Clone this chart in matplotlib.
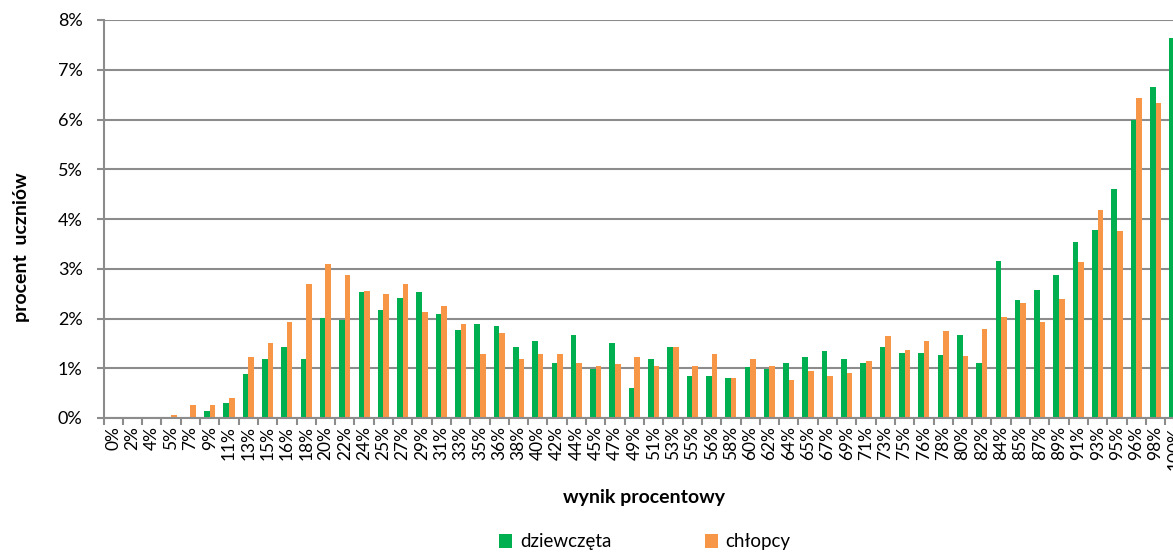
import numpy as np
import matplotlib
matplotlib.use("Agg")
import matplotlib.pyplot as plt
from matplotlib.ticker import PercentFormatter

# wynik procentowy (kategorie)
wyniki = ["0%", "2%", "4%", "5%", "7%", "9%", "11%", "13%", "15%", "16%",
          "18%", "20%", "22%", "24%", "25%", "27%", "29%", "31%", "33%", "35%",
          "36%", "38%", "40%", "42%", "44%", "45%", "47%", "49%", "51%", "53%",
          "55%", "56%", "58%", "60%", "62%", "64%", "65%", "67%", "69%", "71%",
          "73%", "75%", "76%", "78%", "80%", "82%", "84%", "85%", "87%", "89%",
          "91%", "93%", "95%", "96%", "98%", "100%"]

dziewczeta = [0.00, 0.00, 0.00, 0.00, 0.00, 0.15, 0.31, 0.89, 1.18, 1.43,
              1.18, 2.01, 1.97, 2.54, 2.17, 2.42, 2.54, 2.09, 1.76, 1.88,
              1.84, 1.43, 1.55, 1.10, 1.67, 0.98, 1.51, 0.61, 1.19, 1.43,
              0.85, 0.85, 0.81, 1.02, 0.98, 1.10, 1.22, 1.35, 1.19, 1.10,
              1.43, 1.31, 1.31, 1.26, 1.67, 1.10, 3.15, 2.38, 2.58, 2.87,
              3.53, 3.78, 4.60, 6.00, 6.65, 7.64]

chlopcy = [0.03, 0.03, 0.03, 0.06, 0.27, 0.27, 0.41, 1.22, 1.51, 1.92,
           2.70, 3.09, 2.88, 2.56, 2.50, 2.70, 2.13, 2.25, 1.89, 1.29,
           1.71, 1.18, 1.29, 1.29, 1.11, 1.05, 1.09, 1.23, 1.05, 1.43,
           1.05, 1.29, 0.80, 1.19, 1.05, 0.76, 0.94, 0.84, 0.91, 1.15,
           1.64, 1.37, 1.54, 1.75, 1.25, 1.78, 2.03, 2.32, 1.92, 2.39,
           3.13, 4.18, 3.76, 6.43, 6.33, 7.40]

plt.rcParams['font.family'] = ['Lato', 'DejaVu Sans']

fig = plt.figure(figsize=(11.73, 5.54), dpi=100)
# os wykresu wychodzi poza prawa krawedz obrazka, jak w oryginale
ax = fig.add_axes([103.5 / 1173, 1 - 418 / 554, 1081 / 1173, 398 / 554])

x = np.arange(len(wyniki))
w = 0.29
ax.bar(x - w / 2, dziewczeta, width=w, color="#00B050", label="dziewczęta", zorder=3)
ax.bar(x + w / 2, chlopcy, width=w, color="#F79646", label="chłopcy", zorder=3)

ax.set_xlim(-0.5, len(wyniki) - 0.5)
ax.set_ylim(0, 8)
ax.yaxis.set_major_formatter(PercentFormatter(decimals=0))
ax.set_yticks(range(0, 9))

grid_col = "#8c8c8c"
ax.grid(axis="y", color=grid_col, linewidth=1.5, zorder=0)
for s in ["top", "right"]:
    ax.spines[s].set_visible(False)
for s in ["left", "bottom"]:
    ax.spines[s].set_color(grid_col)
    ax.spines[s].set_linewidth(1.5)
    ax.spines[s].set_zorder(4)

ax.set_xticks(x)
ax.set_xticklabels(wyniki, rotation=90, fontsize=12.5)
ax.tick_params(axis="x", which="major", length=0, pad=6)
ax.set_xticks(np.arange(-0.5, len(wyniki)), minor=True)
ax.tick_params(axis="x", which="minor", length=5, width=1.5, color=grid_col)
ax.tick_params(axis="y", length=5, width=1.5, color=grid_col, labelsize=13, pad=10)

fig.text(644 / 1173, 1 - 497 / 554, "wynik procentowy", ha="center", va="center",
         fontsize=14, fontweight="bold")
fig.text(22 / 1173, 1 - 247 / 554, "procent  uczniów", ha="center", va="center",
         rotation=90, fontsize=14, fontweight="bold")

fig.legend(loc="center", bbox_to_anchor=(645 / 1173, 1 - 542 / 554), ncol=2,
           frameon=False, fontsize=13.5, handlelength=0.7, handleheight=0.7,
           handletextpad=0.4, columnspacing=5.0)

fig.savefig("out.png", dpi=100)
